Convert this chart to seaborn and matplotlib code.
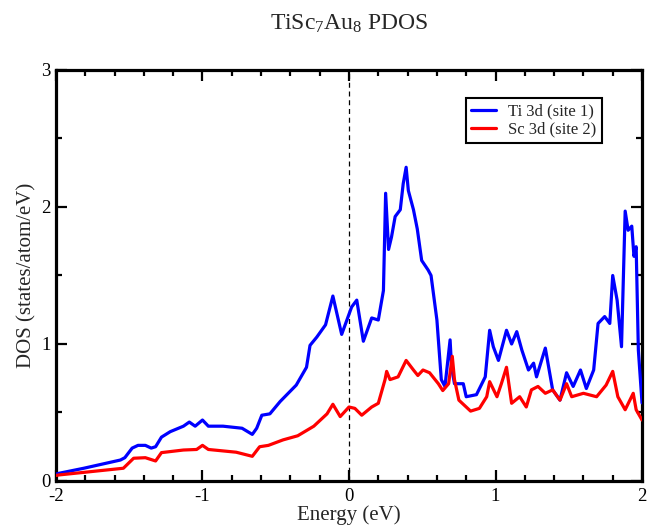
import matplotlib
matplotlib.use("Agg")
import matplotlib.pyplot as plt
import seaborn as sns
import pandas as pd
from matplotlib.ticker import MultipleLocator

# ---- data ----
ti_e = [-2.0, -1.98, -1.81, -1.56, -1.53, -1.48, -1.44, -1.39, -1.35, -1.32, -1.28, -1.22,
        -1.13, -1.09, -1.05, -1.0, -0.96, -0.86, -0.73, -0.66, -0.63, -0.595, -0.54, -0.47,
        -0.36, -0.29, -0.266, -0.22, -0.16, -0.11, -0.05, 0.018, 0.053, 0.098, 0.155, 0.2,
        0.235, 0.25, 0.27, 0.29, 0.315, 0.35, 0.37, 0.39, 0.405, 0.44, 0.466, 0.496, 0.54,
        0.56, 0.60, 0.63, 0.655, 0.69, 0.70, 0.72, 0.78, 0.80, 0.87, 0.93, 0.96, 0.985, 1.02,
        1.075, 1.11, 1.145, 1.18, 1.225, 1.26, 1.28, 1.34, 1.39, 1.44, 1.485, 1.53, 1.58,
        1.62, 1.67, 1.70, 1.745, 1.78, 1.80, 1.83, 1.86, 1.885, 1.905, 1.93, 1.945, 1.96,
        1.975, 2.0]
ti_dos = [0.05, 0.056, 0.093, 0.153, 0.17, 0.24, 0.26, 0.26, 0.24, 0.25, 0.32, 0.36,
          0.40, 0.43, 0.40, 0.445, 0.40, 0.40, 0.385, 0.34, 0.385, 0.48, 0.49, 0.58,
          0.70, 0.83, 0.99, 1.05, 1.14, 1.35, 1.07, 1.27, 1.32, 1.02, 1.19, 1.175,
          1.39, 2.10, 1.69, 1.78, 1.93, 1.98, 2.17, 2.29, 2.12, 1.98, 1.84, 1.61, 1.54,
          1.50, 1.175, 0.74, 0.69, 1.03, 0.83, 0.71, 0.71, 0.615, 0.63, 0.76, 1.10, 0.98, 0.88,
          1.10, 1.00, 1.09, 0.955, 0.81, 0.86, 0.76, 0.97, 0.665, 0.59, 0.79, 0.69, 0.81,
          0.675, 0.81, 1.15, 1.20, 1.15, 1.50, 1.32, 0.98, 1.97, 1.83, 1.86, 1.64, 1.71,
          0.955, 0.57]

sc_e = [-2.0, -1.98, -1.54, -1.47, -1.39, -1.32, -1.28, -1.13, -1.04, -1.0, -0.96, -0.77,
        -0.66, -0.61, -0.55, -0.45, -0.35, -0.24, -0.15, -0.11, -0.06, 0.0, 0.04, 0.087,
        0.155, 0.20, 0.246, 0.257, 0.28, 0.335, 0.39, 0.44, 0.47, 0.505, 0.55, 0.61, 0.64,
        0.68, 0.705, 0.72, 0.75, 0.83, 0.89, 0.94, 0.96, 1.01, 1.04, 1.075, 1.11, 1.165,
        1.21, 1.245, 1.29, 1.34, 1.39, 1.44, 1.485, 1.52, 1.60, 1.69, 1.755, 1.80, 1.835,
        1.885, 1.94, 1.96, 2.0]
sc_dos = [0.04, 0.044, 0.093, 0.166, 0.17, 0.146, 0.207, 0.226, 0.23, 0.26, 0.23, 0.21,
          0.18, 0.25, 0.26, 0.30, 0.33, 0.40, 0.49, 0.56, 0.47, 0.54, 0.53, 0.48,
          0.54, 0.567, 0.74, 0.80, 0.74, 0.76, 0.88, 0.81, 0.77, 0.81, 0.79, 0.71, 0.66,
          0.71, 0.91, 0.74, 0.59, 0.51, 0.53, 0.615, 0.725, 0.615, 0.71, 0.83, 0.567, 0.615,
          0.54, 0.665, 0.69, 0.64, 0.665, 0.59, 0.71, 0.615, 0.64, 0.615, 0.70, 0.80, 0.615,
          0.52, 0.64, 0.52, 0.445]

series_names = ["Ti 3d (site 1)", "Sc 3d (site 2)"]
series_colors = ["#0000ff", "#ff0000"]
x_ticks = [-2, -1, 0, 1, 2]
y_ticks = [0, 1, 2, 3]
title_text = r"TiSc$_7$Au$_8$ PDOS"
x_label = "Energy (eV)"
y_label = "DOS (states/atom/eV)"

df = pd.concat([
    pd.DataFrame({"E": ti_e, "DOS": ti_dos, "series": series_names[0]}),
    pd.DataFrame({"E": sc_e, "DOS": sc_dos, "series": series_names[1]}),
], ignore_index=True)

sns.set_style("ticks")
plt.rcParams["font.family"] = ["Liberation Serif", "DejaVu Serif"]
plt.rcParams["mathtext.fontset"] = "custom"
plt.rcParams["mathtext.rm"] = "Liberation Serif"
plt.rcParams["mathtext.it"] = "Liberation Serif:italic"
plt.rcParams["axes.unicode_minus"] = False

fig = plt.figure(figsize=(6.57, 5.31), dpi=100)
ax = fig.add_axes([0.0852, 0.0942, 0.892, 0.774])

ax.axvline(0, color="black", lw=0.9, ls=(0, (4, 3)), zorder=1)

sns.lineplot(data=df, x="E", y="DOS", hue="series", palette=series_colors,
             estimator=None, sort=False, lw=2.3, ax=ax, zorder=3)

ax.set_xlim(-2, 2)
ax.set_ylim(0, 3)
ax.set_xticks(x_ticks)
ax.set_yticks(y_ticks)
ax.xaxis.set_minor_locator(MultipleLocator(0.2))
ax.yaxis.set_minor_locator(MultipleLocator(0.5))
ax.tick_params(which="both", direction="in", top=True, right=True, colors="black",
               labelsize=13.5)
ax.tick_params(axis="x", pad=5)
ax.tick_params(axis="y", pad=4)
ax.tick_params(which="major", length=8, width=1.6)
ax.tick_params(which="minor", length=4, width=1.6)
for s in ax.spines.values():
    s.set_linewidth(2.3)
    s.set_color("black")

ax.set_xlabel(x_label, fontsize=15, labelpad=0)
ax.set_ylabel(y_label, fontsize=15, labelpad=3)

leg = ax.legend(loc="upper right", bbox_to_anchor=(0.932, 0.932), borderaxespad=0,
                fontsize=12, frameon=True, fancybox=False, framealpha=1,
                edgecolor="black", handlelength=1.5, handletextpad=0.7,
                borderpad=0.35, labelspacing=0.1)
leg.get_frame().set_linewidth(1.5)
for line in leg.get_lines():
    line.set_linewidth(2.3)

fig.text(349 / 657, 1 - 30 / 531, title_text, ha="center", va="baseline", fontsize=17)

fig.savefig("out.png", dpi=100, facecolor="white")
